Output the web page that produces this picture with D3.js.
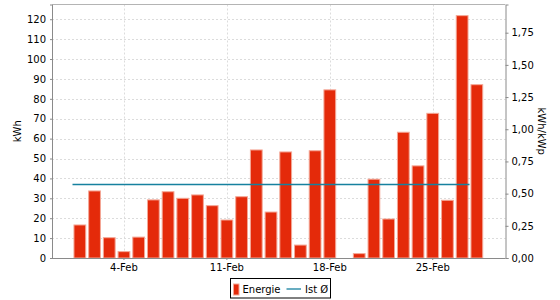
<!DOCTYPE html>
<html><head><meta charset="utf-8">
<script src="https://cdn.jsdelivr.net/npm/d3@7"></script>
<style>
html,body{margin:0;padding:0;background:#fff;}
svg{display:block;font-family:"DejaVu Sans",sans-serif;}
</style></head>
<body><svg id="c" width="560" height="300"></svg>
<script>
const days = ["1-Feb","2-Feb","3-Feb","4-Feb","5-Feb","6-Feb","7-Feb","8-Feb","9-Feb","10-Feb","11-Feb","12-Feb","13-Feb","14-Feb","15-Feb","16-Feb","17-Feb","18-Feb","19-Feb","20-Feb","21-Feb","22-Feb","23-Feb","24-Feb","25-Feb","26-Feb","27-Feb","28-Feb"];
const energy = [16.6,33.7,10.2,3.2,10.5,29.2,33.3,30.0,31.7,26.3,19.1,30.8,54.3,23.1,53.3,6.5,53.9,84.5,0,2.2,39.6,19.6,63.2,46.3,72.7,29.0,121.8,87.1];
const meanValue = 37.2;
const meanSpan = ["1-Feb","27-Feb"];
const xTickLabels = ["4-Feb","11-Feb","18-Feb","25-Feb"];
const leftTicks = [0,10,20,30,40,50,60,70,80,90,100,110,120];
const rightTicks = [0,0.25,0.5,0.75,1.0,1.25,1.5,1.75];
const leftMax = 127.4, rightMax = 1.969;
const seriesNames = ["Energie","Ist Ø"];

const svg = d3.select("#c");
const L = 52, R = 505.5, T = 4.5, B = 258;
const x = d3.scaleBand().domain(days).range([72.5, 484.2]).paddingInner(0.2).paddingOuter(0.1);
const y = d3.scaleLinear().domain([0, leftMax]).range([B, T]);
const y2 = d3.scaleLinear().domain([0, rightMax]).range([B, T]);

// grid
const g = svg.append("g");
g.selectAll("line.h").data(leftTicks.filter(d=>d>0)).join("line")
  .attr("x1", L).attr("x2", R).attr("y1", d=>Math.round(y(d))+0.5).attr("y2", d=>Math.round(y(d))+0.5)
  .attr("stroke", "#dcdcdc").attr("stroke-dasharray", "2,2");
g.selectAll("line.v").data(xTickLabels).join("line")
  .attr("x1", d=>Math.round(x(d)+x.bandwidth()/2)+0.5).attr("x2", d=>Math.round(x(d)+x.bandwidth()/2)+0.5)
  .attr("y1", T).attr("y2", B)
  .attr("stroke", "#dcdcdc").attr("stroke-dasharray", "2,2");

// top border
svg.append("line").attr("x1", L).attr("x2", R).attr("y1", T).attr("y2", T).attr("stroke", "#b4b4b4");

// bars
svg.append("g").selectAll("rect").data(days.map((d,i)=>({d, v: energy[i]})).filter(o=>o.v>0)).join("rect")
  .attr("x", o=>x(o.d)).attr("width", x.bandwidth())
  .attr("y", o=>y(o.v)).attr("height", o=>B - y(o.v))
  .attr("fill", "#e42a0a").attr("stroke", "#f4a796").attr("stroke-width", 1);

// mean line
const half = x.step()/2, bw = x.bandwidth()/2;
svg.append("line")
  .attr("x1", x(meanSpan[0]) + bw - half).attr("x2", x(meanSpan[1]) + bw + half)
  .attr("y1", Math.round(y(meanValue))+0.5).attr("y2", Math.round(y(meanValue))+0.5)
  .attr("stroke", "#16819f").attr("stroke-width", 1.3);

// axes
const axColor = "#8a8a8a";
const yl = svg.append("g").attr("transform", `translate(${L},0)`)
  .call(d3.axisLeft(y).tickValues(leftTicks).tickSize(2).tickPadding(4).tickFormat(d3.format("d")));
const yr = svg.append("g").attr("transform", `translate(${R},0)`)
  .call(d3.axisRight(y2).tickValues(rightTicks).tickSize(3).tickPadding(3).tickFormat(d=>d3.format(".2f")(d).replace(".",",")));
const xa = svg.append("g").attr("transform", `translate(0,${B})`)
  .call(d3.axisBottom(d3.scaleLinear().domain([L,R]).range([L,R])).tickValues([]).tickSize(0));
xa.select(".domain").attr("d", `M${L},0.5H${R}`);
const xt = svg.append("g").attr("transform", `translate(0,${B})`)
  .call(d3.axisBottom(x).tickValues(xTickLabels).tickSize(2).tickPadding(4));
xt.select(".domain").remove();
[yl, yr, xa, xt].forEach(a=>{
  a.selectAll(".domain").attr("stroke", axColor);
  a.selectAll(".tick line").attr("stroke", axColor);
  a.selectAll("text").attr("fill", "#000").style("font-size", "10px").style("font-family", "DejaVu Sans");
});

// axis titles
svg.append("text").attr("transform", `translate(21,${(T+B)/2}) rotate(-90)`).attr("text-anchor","middle")
  .style("font-size","10px").text("kWh");
svg.append("text").attr("transform", `translate(538,${(T+B)/2}) rotate(90)`).attr("text-anchor","middle")
  .style("font-size","10px").text("kWh/kWp");

// legend
const lg = svg.append("g");
lg.append("rect").attr("x", 230.5).attr("y", 278.5).attr("width", 100).attr("height", 19.5)
  .attr("fill", "#fff").attr("stroke", "#000");
lg.append("rect").attr("x", 233.5).attr("y", 284).attr("width", 5.5).attr("height", 11).attr("fill", "#e42a0a").attr("stroke","#f4a796");
lg.append("text").attr("x", 242.5).attr("y", 293).style("font-size","10px").text(seriesNames[0]);
lg.append("line").attr("x1", 286.5).attr("x2", 301).attr("y1", 289).attr("y2", 289).attr("stroke", "#16819f").attr("stroke-width", 1.3);
lg.append("text").attr("x", 305).attr("y", 293).style("font-size","10px").text(seriesNames[1]);
</script></body></html>
